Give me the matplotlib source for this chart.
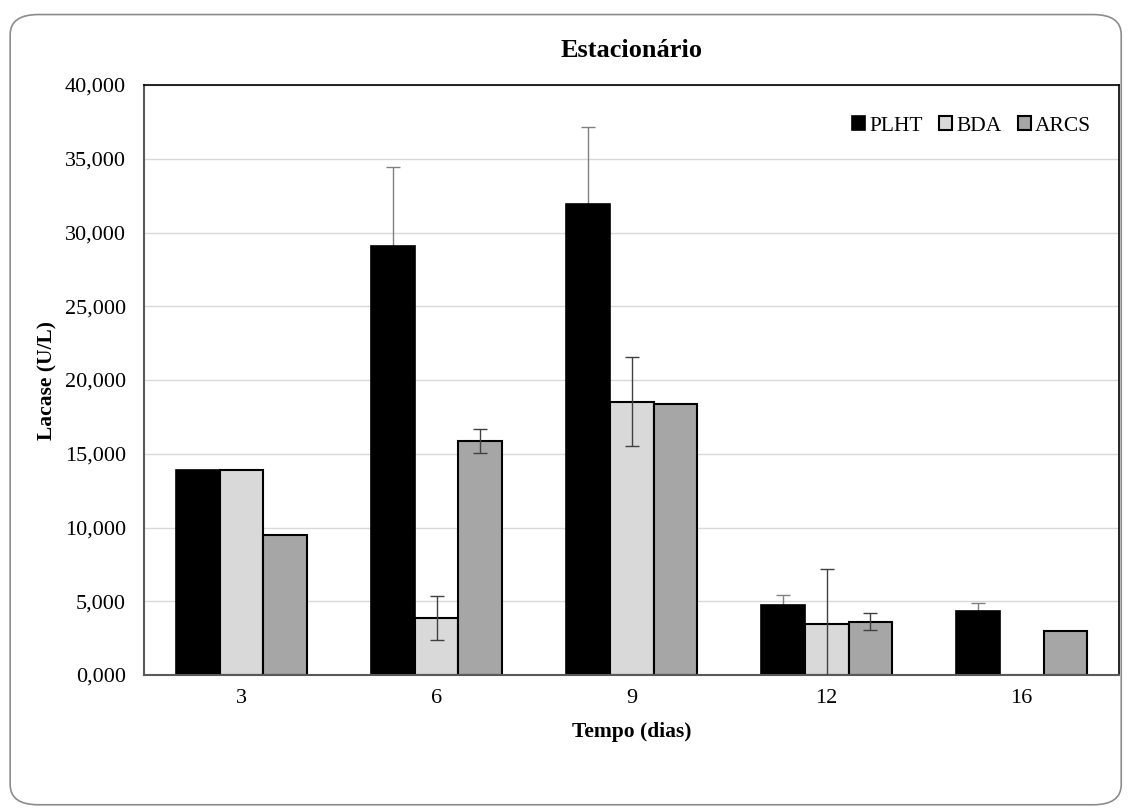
import matplotlib.pyplot as plt
import numpy as np
from matplotlib.patches import FancyBboxPatch
from matplotlib.ticker import FuncFormatter

plt.rcParams['font.family'] = ['Liberation Serif', 'DejaVu Serif']

# Data (U/L)
dias = ['3', '6', '9', '12', '16']
plht = [13900, 29100, 31950, 4750, 4350]
plht_err = [0, 5350, 5200, 700, 550]
bda = [13900, 3880, 18530, 3480, 0]
bda_err = [0, 1500, 3000, 3700, 0]
arcs = [9500, 15870, 18350, 3620, 2960]
arcs_err = [0, 800, 0, 550, 0]

fig = plt.figure(figsize=(11.28, 8.08), dpi=100)

# rounded outer border
border = FancyBboxPatch((0.009, 0.004), 0.985, 0.978,
                        boxstyle='round,pad=0,rounding_size=0.025',
                        transform=fig.transFigure, facecolor='white',
                        edgecolor='#8c8c8c', linewidth=1.2, zorder=-10)
fig.patches.append(border)

ax = fig.add_axes([0.1277, 0.1646, 0.8644, 0.7302])
ax.set_zorder(1)
ax.set_facecolor('none')

x = np.arange(len(dias))
w = 0.225
ekw = dict(ecolor='#404040', elinewidth=1, capsize=5, capthick=1)

ax.bar(x - w, plht, w, color='black', edgecolor='black', linewidth=1.2,
       label='PLHT', zorder=2)
ax.bar(x, bda, w, color='#d9d9d9', edgecolor='black', linewidth=1.5,
       label='BDA', zorder=2)
ax.bar(x + w, arcs, w, color='#a6a6a6', edgecolor='black', linewidth=1.5,
       label='ARCS', zorder=2)

# error bars (only where there is one); PLHT ones sit behind the black bars
for off, vals, errs, z in [(-w, plht, plht_err, 1.5), (0, bda, bda_err, 3),
                           (w, arcs, arcs_err, 3)]:
    for i, (v, e) in enumerate(zip(vals, errs)):
        if e > 0:
            kw = dict(ekw)
            if z < 2:
                kw['ecolor'] = '#808080'
            ax.errorbar(x[i] + off, v, yerr=e, fmt='none', zorder=z, **kw)

ax.set_xlim(-0.5, len(dias) - 0.5)
ax.set_ylim(0, 40000)
ax.set_yticks(np.arange(0, 40001, 5000))
ax.yaxis.set_major_formatter(FuncFormatter(lambda v, p: f'{v:,.0f}' if v >= 1000 else '0,000'))
ax.set_xticks(x)
ax.set_xticklabels(dias)
ax.tick_params(length=0, labelsize=16, pad=10)
ax.tick_params(axis='y', pad=13)

ax.grid(axis='y', color='#d9d9d9', linewidth=1)
ax.set_axisbelow(True)
for s in ['top', 'right']:
    ax.spines[s].set_color('black')
    ax.spines[s].set_linewidth(1.2)
for s in ['left', 'bottom']:
    ax.spines[s].set_color('#595959')
    ax.spines[s].set_linewidth(1.5)

ax.set_title('Estacionário', fontsize=19, fontweight='bold', pad=20)
ax.set_xlabel('Tempo (dias)', fontsize=15.5, fontweight='bold', labelpad=10)
ax.set_ylabel('Lacase (U/L)', fontsize=15.5, fontweight='bold', labelpad=5)

ax.legend(loc='upper right', ncol=3, frameon=False, fontsize=15.5,
          handlelength=0.6, handleheight=0.6, handletextpad=0.2,
          columnspacing=0.75, bbox_to_anchor=(0.991, 0.98))

fig.savefig('out.png', dpi=100)
